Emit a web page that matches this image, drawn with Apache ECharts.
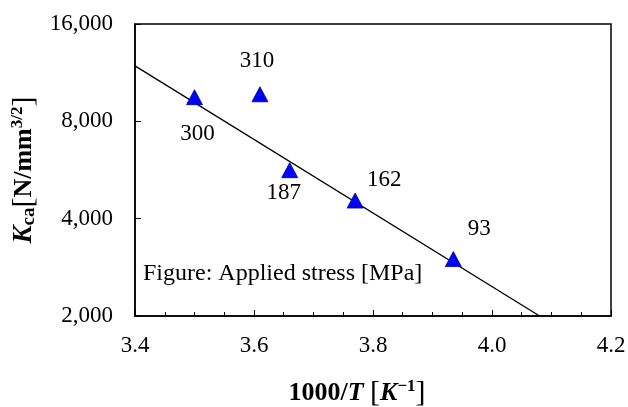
<!DOCTYPE html>
<html>
<head>
<meta charset="utf-8">
<script src="https://cdn.jsdelivr.net/npm/echarts@6/dist/echarts.min.js"></script>
<style>
  html, body { margin: 0; padding: 0; background: #fff; }
  #chart { width: 628px; height: 407px; }
</style>
</head>
<body>
<div id="chart"></div>
<script>
// Measured points: inverse temperature vs. K_ca, each tagged with its applied stress
const invTemp = [3.50, 3.61, 3.66, 3.77, 3.935];
const kca = [9500, 9700, 5650, 4550, 3000];
const stressLabels = ['300', '310', '187', '162', '93'];

// Exponential fit, drawn as a straight line on the log axis
const fitX = [3.4, 4.08];
const fitY = [11870, 2000];

// Axis ranges and ticks
const xMin = 3.4, xMax = 4.2, xStep = 0.2;
const yTicks = [2000, 4000, 8000, 16000];

const serif = '"Liberation Serif", "DejaVu Serif", serif';

// Where each stress label sits relative to its marker
const labelOffsets = [[3, 37], [-3, -33], [-6, 23], [29, -21], [26, -30]];

const chart = echarts.init(document.getElementById('chart'));

const points = invTemp.map((x, i) => ({
  value: [x, kca[i]],
  label: {
    show: true,
    formatter: stressLabels[i],
    position: 'inside',
    offset: labelOffsets[i],
    color: '#000',
    fontFamily: serif,
    fontSize: 23
  }
}));

chart.setOption({
  animation: false,
  backgroundColor: '#fff',
  grid: {
    left: 135, right: 17, top: 24, bottom: 91,
    containLabel: false,
    outerBoundsMode: 'none',
    show: true, borderColor: '#000', borderWidth: 1.5, backgroundColor: 'transparent'
  },
  xAxis: {
    type: 'value',
    min: xMin, max: xMax, interval: xStep,
    axisLine: { show: true, lineStyle: { color: '#000', width: 1.5 } },
    axisTick: { show: true, inside: true, length: 6, lineStyle: { color: '#000' } },
    minorTick: { show: true, splitNumber: 4, length: 4, lineStyle: { color: '#000' } },
    splitLine: { show: false },
    axisLabel: {
      color: '#000', fontFamily: serif, fontSize: 23, margin: 18,
      formatter: v => v.toFixed(1)
    },
    name: '{b|1000/}{bi|T}{b| }{br|[}{bi|K}{sup|−1}{br|]}',
    nameLocation: 'middle',
    nameGap: 62,
    nameTextStyle: {
      padding: [0, 32, 0, 0],
      rich: {
        b: { fontFamily: serif, fontWeight: 'bold', fontSize: 26, color: '#000' },
        bi: { fontFamily: serif, fontWeight: 'bold', fontStyle: 'italic', fontSize: 26, color: '#000' },
        br: { fontFamily: serif, fontSize: 30, color: '#000' },
        sup: { fontFamily: serif, fontWeight: 'bold', fontSize: 17, color: '#000', padding: [0, 0, 12, 0] }
      }
    }
  },
  yAxis: {
    type: 'log',
    logBase: 2,
    min: 2000, max: 16000,
    axisLine: { show: true, lineStyle: { color: '#000', width: 1.5 } },
    axisTick: { show: true, inside: true, length: 6, lineStyle: { color: '#000' }, customValues: yTicks },
    splitLine: { show: false },
    axisLabel: {
      color: '#000', fontFamily: serif, fontSize: 23, margin: 22,
      customValues: yTicks,
      formatter: v => Math.round(v).toLocaleString('en-US')
    },
    name: '{bi|K}{sub|ca}{br|[}{b|N/mm}{sup|3/2}{br|]}',
    nameLocation: 'middle',
    nameRotate: 90,
    nameGap: 89,
    nameTextStyle: {
      rich: {
        b: { fontFamily: serif, fontWeight: 'bold', fontSize: 26, color: '#000' },
        bi: { fontFamily: serif, fontWeight: 'bold', fontStyle: 'italic', fontSize: 27, color: '#000' },
        br: { fontFamily: serif, fontSize: 30, color: '#000' },
        sub: { fontFamily: serif, fontWeight: 'bold', fontSize: 19, color: '#000', padding: [10, 0, 0, 0] },
        sup: { fontFamily: serif, fontWeight: 'bold', fontSize: 17, color: '#000', padding: [0, 0, 12, 0] }
      }
    }
  },
  series: [
    {
      type: 'line',
      data: fitX.map((x, i) => [x, fitY[i]]),
      showSymbol: false,
      symbol: 'none',
      lineStyle: { color: '#000', width: 1.3 },
      z: 2
    },
    {
      type: 'scatter',
      data: points,
      symbol: 'triangle',
      symbolSize: [16, 15],
      itemStyle: { color: '#0000ff', borderColor: '#00008b', borderWidth: 0.8, opacity: 1 },
      z: 3
    }
  ],
  graphic: [
    {
      type: 'text',
      left: 143, top: 262,
      style: {
        text: 'Figure: Applied stress [MPa]',
        fill: '#000',
        font: '24px "Liberation Serif", serif'
      }
    }
  ]
});
</script>
</body>
</html>
